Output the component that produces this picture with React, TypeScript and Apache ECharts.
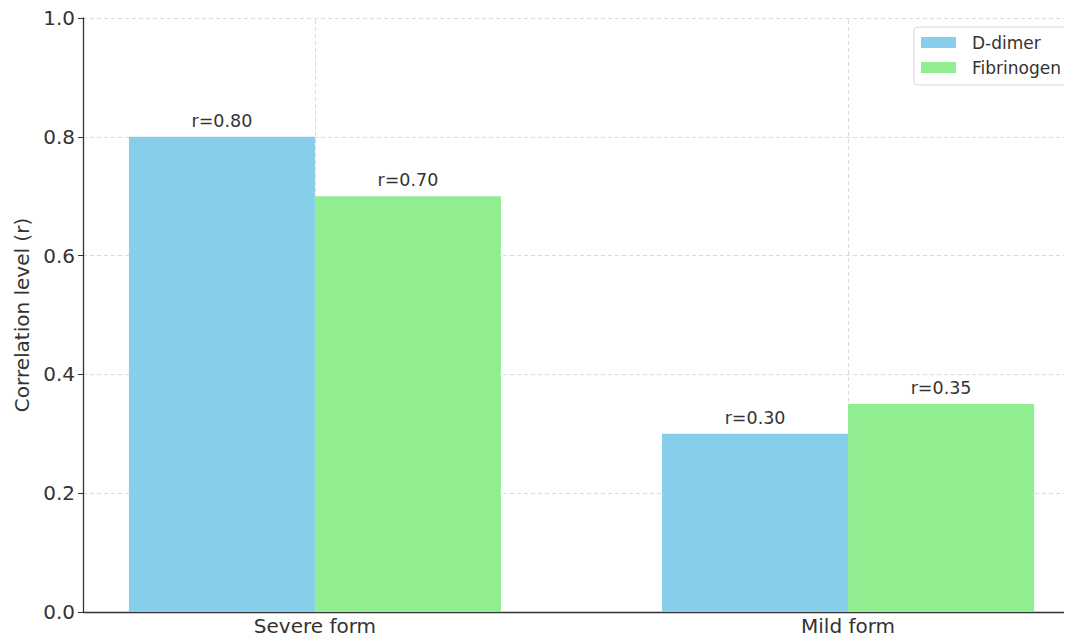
import React, { useEffect, useRef } from "react";
import * as echarts from "echarts";

const categories = ["Severe form", "Mild form"];
const categoryPositions = [0, 1];
const dDimer = [0.8, 0.3];
const fibrinogen = [0.7, 0.35];
const seriesNames = ["D-dimer", "Fibrinogen"];
const yTicks = [0, 0.2, 0.4, 0.6, 0.8, 1.0];

const FONT = "DejaVu Sans";

export default function App() {
  const ref = useRef<HTMLDivElement>(null);
  useEffect(() => {
    if (!ref.current) return;
    const chart = echarts.init(ref.current, null, { renderer: "svg" });
    const mk = (vals: number[]) => vals.map((v, i) => [categoryPositions[i], v]);
    const labelCfg = {
      show: true,
      position: "top",
      distance: 7,
      color: "#333",
      fontFamily: FONT,
      fontSize: 17.5,
      formatter: (p: any) => "r=" + p.value[1].toFixed(2),
    };
    chart.setOption({
      animation: false,
      backgroundColor: "#fff",
      textStyle: { fontFamily: FONT },
      grid: { left: 83, top: 18, width: 997, height: 594, containLabel: false },
      legend: {
        orient: "vertical",
        left: 914,
        top: 27,
        itemWidth: 35,
        itemHeight: 11,
        itemGap: 8,
        padding: [7, 5, 9, 7],
        borderColor: "#d6d6d6",
        borderWidth: 1,
        borderRadius: 4,
        backgroundColor: "rgba(255,255,255,0.9)",
        itemStyle: { borderWidth: 0 },
        textStyle: { fontFamily: FONT, fontSize: 17, color: "#333", padding: [0, 0, 0, 11] },
        data: seriesNames.map((n) => ({ name: n, icon: "rect" })),
      },
      xAxis: {
        type: "value",
        min: -0.435,
        max: 1.435,
        axisLine: { show: true, onZero: false, lineStyle: { color: "#333", width: 1.3 } },
        axisTick: {
          show: true,
          inside: true,
          length: 4,
          customValues: categoryPositions,
          lineStyle: { color: "#333" },
        },
        axisLabel: {
          customValues: categoryPositions,
          formatter: (v: number) => categories[Math.round(v)] ?? "",
          color: "#333",
          fontSize: 20,
          fontFamily: FONT,
          margin: 4,
        },
        splitLine: { show: false },
      },
      yAxis: {
        type: "value",
        min: 0,
        max: 1,
        interval: 0.2,
        name: "Correlation level (r)",
        nameLocation: "middle",
        nameGap: 50,
        nameTextStyle: { fontFamily: FONT, fontSize: 20, color: "#333" },
        axisLine: { show: true, onZero: false, lineStyle: { color: "#333", width: 1.3 } },
        axisTick: { show: true, length: 5, lineStyle: { color: "#333" } },
        axisLabel: {
          color: "#333",
          fontSize: 20,
          fontFamily: FONT,
          margin: 8,
          formatter: (v: number) => (yTicks.some((t) => Math.abs(t - v) < 1e-9) ? v.toFixed(1) : ""),
        },
        splitLine: { show: true, lineStyle: { color: "#d9d9d9", type: [4, 3], width: 1 } },
      },
      series: [
        {
          name: "vgrid",
          type: "scatter",
          data: [],
          silent: true,
          z: 1,
          markLine: {
            silent: true,
            symbol: "none",
            label: { show: false },
            z: 1,
            lineStyle: { color: "#d9d9d9", type: [4, 3], width: 1 },
            data: categoryPositions.map((x) => ({ xAxis: x })),
          },
        },
        {
          name: seriesNames[0],
          type: "bar",
          data: mk(dDimer),
          barWidth: 186,
          barGap: "0%",
          itemStyle: { color: "#87CEEB" },
          label: labelCfg,
          z: 2,
        },
        {
          name: seriesNames[1],
          type: "bar",
          data: mk(fibrinogen),
          barWidth: 186,
          barGap: "0%",
          itemStyle: { color: "#90EE90" },
          label: labelCfg,
          z: 2,
        },
      ],
    });
    return () => chart.dispose();
  }, []);
  return (
    <div style={{ width: 1072, height: 641, margin: -8, overflow: "hidden", position: "relative" }}>
      <div ref={ref} style={{ width: 1090, height: 641 }} />
    </div>
  );
}
